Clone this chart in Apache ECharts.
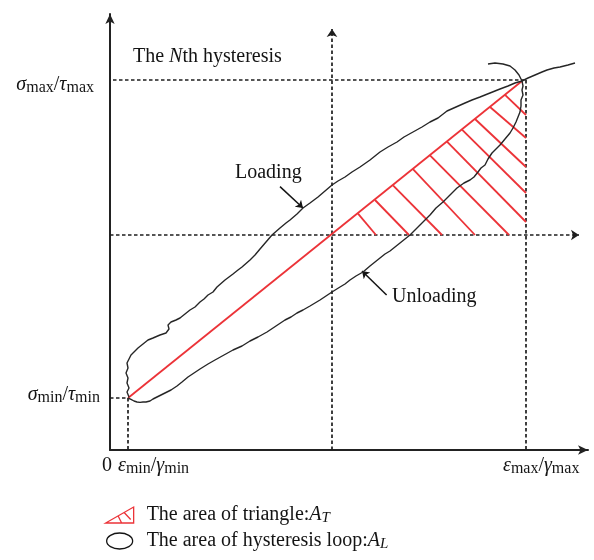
<!DOCTYPE html>
<html>
<head>
<meta charset="utf-8">
<title>The Nth hysteresis loop</title>
<script src="https://cdn.jsdelivr.net/npm/echarts@6/dist/echarts.min.js"></script>
<style>
  html, body { margin: 0; padding: 0; background: #ffffff; }
  #chart { width: 594px; height: 560px; }
</style>
</head>
<body>
<div id="chart"></div>
<script>
// ---- axis ranges (normalised strain / stress units) ----
const strainRange = [0, 239];
const stressRange = [0, 218];

// ---- characteristic values of the N-th cycle ----
const strainLevels = { min: 9, mean: 111, max: 208 };
const stressLevels = { min: 26, mean: 107.5, max: 185 };
// turning points of the loop (min and max of the cycle)
const turningPoints = [[9, 26], [206, 184.5]];

// ---- loading branch (strain, stress) ----
const loadingCurve = [
  [9.5,26.5],[8.5,29],[9.5,31],[8.5,33.5],[9,36],[8,38.5],[9,41],[8.5,43.5],[9.5,45.5],[10.5,47.5],
  [12,49],[14,51],[16.5,53],[19,55],[21.5,56],[25,57.5],[28,58.5],[29.5,60.5],[29,62.5],[30.5,64],
  [33,65],[35,66],[37.5,68],[40,70],[42.5,71.5],[45,74],[47,75.5],[49,77.5],[51.5,79],[53.5,81.5],
  [57.5,85],[61.5,88],[64,90],[66,91.5],[70,95],[72.5,97.5],[75,100.5],[78,104],[81,107.5],[85,111],
  [88,113.5],[90,115],[93.5,118],[96.5,121],[100,123.5],[104,126.5],[107.5,129.5],[111,132.5],[114,134.5],
  [117.5,136.5],[121,139],[125,141.5],[130,145],[135,149],[139,151.5],[143.5,154],[147,156.5],[151.5,159],
  [156,161.5],[160,164],[164,166],[168.5,169.5],[173,171.5],[177.5,173.5],[181,175],[185,176.5],[190,178.5],
  [195,180.5],[199,182],[202.5,183.5],[206,184.5],[209,186],[212.5,187.5],[216,189],[218.5,190],[222,191],
  [225,191.5],[229,192.5],[232.5,193.5]
];

// ---- unloading branch (strain, stress) ----
const unloadingCurve = [
  [189,193],[192.5,193.5],[196.5,193],[200,192],[202.5,190],[204.5,187.5],[206,184.5],[206.5,182],[206,180],
  [206.5,177.5],[205.5,175],[205.5,172],[205,169],[204,166.5],[203,164],[201.5,161],[200,158.5],[197.5,155.5],
  [195,152.5],[193,150.5],[191,148.5],[189,145.5],[187.5,142.5],[185.5,141],[184,139],[182,136.5],[180,135],
  [177,133.5],[173.5,131],[170,127.5],[166.5,124],[163,121],[160,117.5],[157.5,115],[155,112.5],[152.5,110],
  [150,107.5],[147.5,105.5],[145,103.5],[142.5,101.5],[140,99.5],[137.5,98],[135,96],[132.5,94],[130,92],
  [126.5,89],[123,87],[120,85],[117.5,83],[115,81.5],[111,79],[108,77],[105,75],[102.5,73.5],[100,72],
  [96.5,70],[93.5,68.5],[90.5,66.5],[87.5,65],[83,62],[78.5,59],[74,56.5],[70,54.5],[66,52],[61.5,50],
  [57,47.5],[52.5,45],[49,43],[45,40.5],[42,38.5],[39,36.5],[36,34],[33.5,32],[30.5,30],[27.5,28.5],
  [25.5,27.5],[23.5,26.5],[21.5,25.5],[20,24.5],[18,24],[16.5,24],[15,23.8],[13.5,24],[12,24.5],[10.5,25.3],[9,26]
];

// ---- hatching of the triangle A_T (start on the hypotenuse, end on a leg) ----
const hatchSegments = [
  [[124,118.2],[133,107.5]],
  [[132.5,125],[149.5,107.5]],
  [[141.5,132.3],[166,107.5]],
  [[151.5,140.4],[182.5,107.5]],
  [[160,147.3],[199.5,107.5]],
  [[168.5,154.2],[208,114]],
  [[176,160.2],[208,128.5]],
  [[182.5,165.5],[208,141.5]],
  [[190,171.5],[208,156]],
  [[197.5,177.6],[208,167.5]]
];

// ---- pointer arrows for the branch labels ----
const loadingPointer = [[85,131.7],[96.5,121]];
const unloadingPointer = [[138.3,77.5],[126,89.5]];

// ---- legend names ----
const legendNames = ['The area of triangle', 'The area of hysteresis loop'];

const serif = '"Liberation Serif", "Times New Roman", serif';
const ink = '#141414';
const red = '#ec3338';

const rich = {
  r:  { fontFamily: serif, fontSize: 20, lineHeight: 22, color: ink },
  i:  { fontFamily: serif, fontSize: 20, lineHeight: 22, fontStyle: 'italic', color: ink },
  s:  { fontFamily: serif, fontSize: 16, lineHeight: 12, verticalAlign: 'bottom', color: ink },
  si: { fontFamily: serif, fontSize: 15, lineHeight: 12, verticalAlign: 'bottom', fontStyle: 'italic', color: ink }
};

const dashed = { color: '#1e1e1e', width: 1.7, type: [3.5, 2.5], opacity: 1 };

const guideLines = [
  [[1.5, stressLevels.max], [strainLevels.max, stressLevels.max]],
  [[strainLevels.max, stressLevels.max], [strainLevels.max, 0]],
  [[0, stressLevels.min], [strainLevels.min, stressLevels.min]],
  [[strainLevels.min, stressLevels.min], [strainLevels.min, 0]]
];
const meanLines = [
  [[strainLevels.mean, 0], [strainLevels.mean, 210.5]],
  [[0, stressLevels.mean], [234.5, stressLevels.mean]]
];

const chart = echarts.init(document.getElementById('chart'), null, { renderer: 'canvas' });

const option = {
  animation: false,
  backgroundColor: '#ffffff',
  grid: { left: 110, right: 6, top: 14, bottom: 110 },
  xAxis: {
    type: 'value', min: strainRange[0], max: strainRange[1],
    axisLine: { show: true, lineStyle: { color: '#222', width: 2 }, symbol: ['none', 'arrow'], symbolSize: [7, 10] },
    axisTick: { show: false }, axisLabel: { show: false }, splitLine: { show: false }
  },
  yAxis: {
    type: 'value', min: stressRange[0], max: stressRange[1],
    axisLine: { show: true, lineStyle: { color: '#222', width: 2 }, symbol: ['none', 'arrow'], symbolSize: [7, 10] },
    axisTick: { show: false }, axisLabel: { show: false }, splitLine: { show: false }
  },
  legend: {
    orient: 'vertical', left: 105, top: 505, height: 60, padding: 0,
    itemWidth: 28, itemHeight: 16, itemGap: 5,
    selectedMode: false,
    data: [
      { name: legendNames[0], icon: 'path://M0,16 L28,16 L28,0 Z M12.5,9 L16,16 M18.5,5.5 L25,12.5',
        itemStyle: { color: 'rgba(0,0,0,0)', borderColor: red, borderWidth: 1.3 } },
      { name: legendNames[1], icon: 'path://M0,8 A13,8 0 1,1 26,8 A13,8 0 1,1 0,8 Z',
        itemStyle: { color: 'rgba(0,0,0,0)', borderColor: ink, borderWidth: 1.3 } }
    ],
    formatter: function (name) {
      return name === legendNames[0]
        ? '{r|The area of triangle:}{i|A}{si|T}'
        : '{r|The area of hysteresis loop:}{i|A}{si|L}';
    },
    textStyle: { fontFamily: serif, fontSize: 20, color: ink, padding: [0, 0, 0, 8], rich: rich }
  },
  series: [
    {
      type: 'lines', name: 'guides', coordinateSystem: 'cartesian2d', silent: true,
      lineStyle: dashed, symbol: 'none',
      data: guideLines.map(c => ({ coords: c }))
    },
    {
      type: 'lines', name: 'means', coordinateSystem: 'cartesian2d', silent: true,
      lineStyle: dashed, symbol: ['none', 'arrow'], symbolSize: 8,
      data: meanLines.map(c => ({ coords: c }))
    },
    {
      type: 'lines', name: legendNames[0], coordinateSystem: 'cartesian2d', silent: true,
      lineStyle: { color: red, width: 1.8, opacity: 1 }, symbol: 'none', z: 3,
      data: [{ coords: turningPoints }].concat(hatchSegments.map(c => ({ coords: c })))
    },
    {
      type: 'line', name: legendNames[1], data: loadingCurve, showSymbol: false, silent: true, z: 4,
      lineStyle: { color: '#262626', width: 1.4 }, itemStyle: { color: ink }
    },
    {
      type: 'line', name: legendNames[1], data: unloadingCurve, showSymbol: false, silent: true, z: 4,
      lineStyle: { color: '#262626', width: 1.4 }, itemStyle: { color: ink }
    },
    {
      type: 'lines', name: 'pointers', coordinateSystem: 'cartesian2d', silent: true,
      lineStyle: { color: ink, width: 1.5, opacity: 1 }, symbol: ['none', 'arrow'], symbolSize: 7,
      data: [{ coords: loadingPointer }, { coords: unloadingPointer }]
    }
  ]
};

chart.setOption(option);

// text annotations anchored on the axis values
const toPx = p => chart.convertToPixel({ gridIndex: 0 }, p);
const pMax = toPx([0, stressLevels.max]);
const pMin = toPx([0, stressLevels.min]);
const pOrigin = toPx([0, 0]);
const pEpsMin = toPx([strainLevels.min, 0]);
const pEpsMax = toPx([strainLevels.max, 0]);

function label(x, y, text, align) {
  return {
    type: 'text', x: x, y: y, silent: true,
    style: { text: text, rich: rich, align: align || 'left', verticalAlign: 'middle', font: '20px ' + serif, fill: ink }
  };
}

chart.setOption({
  graphic: [
    label(pMax[0] - 16, pMax[1] + 5, '{i|σ}{s|max}{r|/}{i|τ}{s|max}', 'right'),
    label(pMin[0] - 10, pMin[1] - 3, '{i|σ}{s|min}{r|/}{i|τ}{s|min}', 'right'),
    label(pOrigin[0] - 3, pOrigin[1] + 16, '{r|0}', 'center'),
    label(pEpsMin[0] - 10, pEpsMin[1] + 16, '{i|ε}{s|min}{r|/}{i|γ}{s|min}', 'left'),
    label(pEpsMax[0] - 23, pEpsMax[1] + 16, '{i|ε}{s|max}{r|/}{i|γ}{s|max}', 'left'),
    label(133, 57, '{r|The }{i|N}{r|th hysteresis}', 'left'),
    label(235, 173, '{r|Loading}', 'left'),
    label(392, 297, '{r|Unloading}', 'left')
  ]
});
</script>
</body>
</html>
